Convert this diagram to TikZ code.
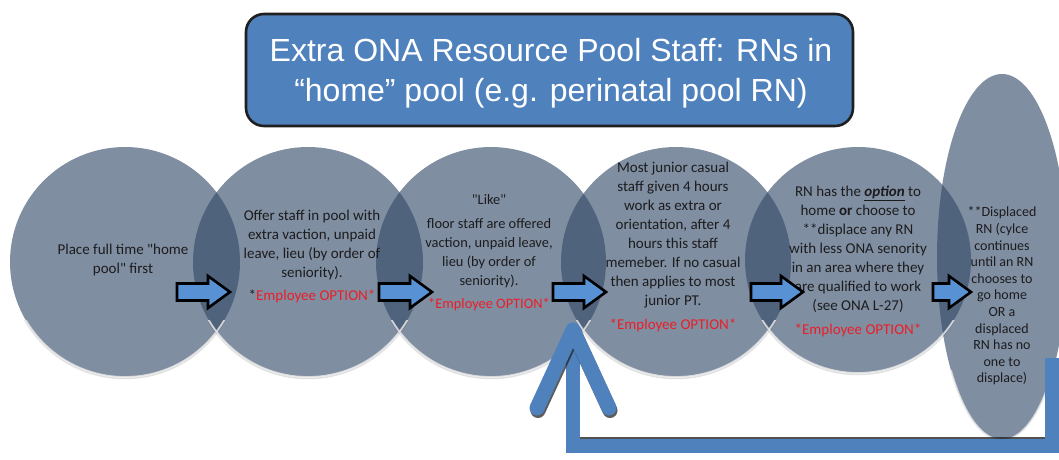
\documentclass[tikz,border=0pt]{standalone}
\usepackage{fontspec}
\setmainfont{Carlito}[Ligatures=TeXOff]
\newfontfamily\arialf{Liberation Sans}
\usetikzlibrary{shapes.geometric}
\definecolor{circfill}{RGB}{51,73,104}
\definecolor{optred}{RGB}{235,30,40}
\definecolor{titleblue}{RGB}{79,129,189}
\definecolor{arrblue}{RGB}{88,145,212}
\definecolor{txtgray}{RGB}{28,28,30}
\tikzset{
  circ/.style={circle, draw=none, fill=circfill, fill opacity=0.62, inner sep=0pt, outer sep=0pt, minimum size=230pt},
  rim/.style={draw=white!85!gray, line width=1.8pt, opacity=0.8},
  shade/.style={draw=black, line width=1.5pt, opacity=0.12},
  txt/.style={align=center, text=txtgray, font=\fontsize{15}{19}\selectfont, inner sep=0pt},
  midtxt/.style={align=center, text=txtgray, font=\fontsize{14.4}{19}\selectfont, inner sep=0pt},
  smalltxt/.style={align=center, text=txtgray, font=\fontsize{14}{16.6}\selectfont, inner sep=0pt},
  titlebox/.style={rectangle, rounded corners=18pt, draw=black!88, line width=2.6pt, fill=titleblue,
     minimum width=607pt, minimum height=112pt, text=white, align=center},
  titletxt/.style={text=white, align=center, inner sep=0pt, font=\arialf\fontsize{32}{40}\selectfont},
  blockarr/.style={draw=black, fill=arrblue, line width=2.6pt, line join=miter},
  retline/.style={draw=titleblue, line width=14pt},
  retarm/.style={draw=titleblue, line width=15pt, line cap=round},
  retshadow/.style={draw=black!85, line width=15pt, line cap=round, opacity=0.75},
  pics/barrow/.style={code={
    \path[blockarr] (0,-8.5) -- (#1-22,-8.5) -- (#1-22,-16) -- (#1,0) -- (#1-22,16) -- (#1-22,8.5) -- (0,8.5) -- cycle;
  }}
}
\begin{document}
\begin{tikzpicture}[x=1pt,y=-1pt]
\useasboundingbox (0,0) rectangle (1059,459);
\fill[white] (0,0) rectangle (1059,459);

% title
\node[titlebox] (title) at (549.5,70) {};
\node[titletxt] (titletext) at (551,73) {Extra ONA Resource Pool Staff: RNs in\\“home” pool (e.g. perinatal pool RN)};

% circles
\node[circ] (c1) at (125,262) {};
\node[circ] (c2) at (308,262) {};
\node[circ] (c3) at (491,262) {};
\node[circ] (c4) at (676,262) {};
\node[circ, minimum size=226pt] (c5) at (858,260) {};
\node[ellipse, draw=none, fill=circfill, fill opacity=0.62, inner sep=0pt, outer sep=0pt,
      minimum width=130pt, minimum height=366pt] (c6) at (1002,257) {};

% bottom rims
\begin{scope}
  \clip (0,320) rectangle (1059,459);
  \foreach \c in {c1,c2,c3,c4}{
    \draw[shade] ([yshift=-1.5pt]\c.center) circle[radius=115];
    \draw[rim] (\c.center) circle[radius=115];
  }
  \draw[shade] ([yshift=-1.5pt]c5.center) circle[radius=113];
  \draw[rim] (c5.center) circle[radius=113];
\end{scope}
\begin{scope}
  \clip (900,370) rectangle (1059,459);
  \draw[rim] (c6.center) ellipse[x radius=65, y radius=183];
\end{scope}

% texts
\node[txt] (t1) at (123,260) {Place full time "home\\pool" first};
\node[txt] (t2) at (312,256) {Offer staff in pool with\\extra vaction, unpaid\\leave, lieu (by order of\\seniority).\\[4pt]*{\color{optred}Employee OPTION*}};
\node[midtxt] (t3) at (489,253) {"Like"\\[5pt]floor staff are offered\\vaction, unpaid leave,\\lieu (by order of\\seniority).\\[4pt]{\color{optred}*Employee OPTION*}};
\node[txt] (t4) at (673,247) {Most junior casual\\staff given 4 hours\\work as extra or\\orientation, after 4\\hours this staff\\memeber. If no casual\\then applies to most\\junior PT.\\[5pt]{\color{optred}*Employee OPTION*}};
\node[txt] (t5) at (858,261) {RN has the \underline{\textbf{\textit{option}}} to\\home \textbf{or} choose to\\**displace any RN\\with less ONA senority\\in an area where they\\are qualified to work\\(see ONA L-27)\\[5pt]{\color{optred}*Employee OPTION*}};
\node[smalltxt] (t6) at (1002,296) {**Displaced\\RN (cylce\\continues\\until an RN\\chooses to\\go home\\OR a\\displaced\\RN has no\\one to\\displace)};

% block arrows
\pic at (177,292) {barrow=53};
\pic at (379,292) {barrow=53};
\pic at (553,292) {barrow=53};
\pic at (751,292) {barrow=52};
\pic at (933,292) {barrow=38};

% return arrow
\coordinate (r0) at (1052,358);
\coordinate (r1) at (1052,446);
\coordinate (r2) at (573,446);
\coordinate (r3) at (573,345);
\coordinate (tip) at (573,330);
\coordinate (al) at (537,408);
\coordinate (ar) at (609,408);
\draw[draw=black!85, line width=14pt, opacity=0.8] ([yshift=2.5pt]r1) -- ([yshift=2.5pt]r2);
\draw[retline] (r0) -- (r1) -- (r2) -- (r3);
\draw[retshadow] ([shift={(1,2.5)}]tip) -- ([shift={(1,2.5)}]al);
\draw[retshadow] ([shift={(1,2.5)}]tip) -- ([shift={(1,2.5)}]ar);
\draw[retarm] (tip) -- (al);
\draw[retarm] (tip) -- (ar);
\end{tikzpicture}
\end{document}
